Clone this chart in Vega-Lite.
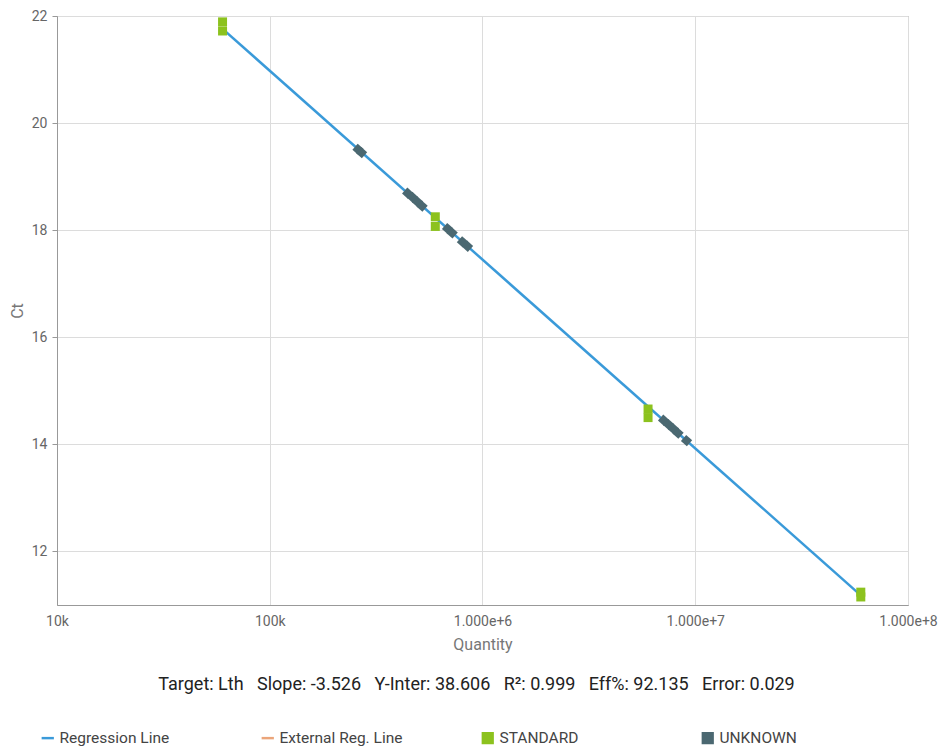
{
  "$schema": "https://vega.github.io/schema/vega-lite/v6.json",
  "width": 851,
  "height": 589,
  "autosize": {"type": "none"},
  "padding": {"left": 57, "top": 16, "right": 37, "bottom": 146},
  "background": "white",
  "config": {
    "font": "Roboto",
    "view": {"stroke": "#999", "strokeWidth": 1},
    "axis": {
      "labelFont": "Roboto", "labelFontSize": 14, "labelColor": "#666",
      "titleFont": "Roboto", "titleFontSize": 16, "titleColor": "#777", "titleFontWeight": "normal",
      "gridColor": "#dcdcdc", "domainColor": "#999"
    }
  },
  "title": {
    "text": "Target: Lth\u00a0\u00a0\u00a0Slope: -3.526\u00a0\u00a0\u00a0Y-Inter: 38.606\u00a0\u00a0\u00a0R²: 0.999\u00a0\u00a0\u00a0Eff%: 92.135\u00a0\u00a0\u00a0Error: 0.029",
    "orient": "bottom", "anchor": "middle", "frame": "group",
    "font": "Roboto", "fontSize": 18, "fontWeight": "normal", "color": "#222",
    "offset": -71, "dx": -6
  },
  "data": {
    "values": [
      {"series": "Regression Line", "quantity": 60000, "ct": 21.76},
      {"series": "Regression Line", "quantity": 60000000, "ct": 11.18},
      {"series": "STANDARD", "quantity": 60000, "ct": 21.89},
      {"series": "STANDARD", "quantity": 60000, "ct": 21.72},
      {"series": "STANDARD", "quantity": 600000, "ct": 18.25},
      {"series": "STANDARD", "quantity": 600000, "ct": 18.07},
      {"series": "STANDARD", "quantity": 6000000, "ct": 14.66},
      {"series": "STANDARD", "quantity": 6000000, "ct": 14.5},
      {"series": "STANDARD", "quantity": 60000000, "ct": 11.24},
      {"series": "STANDARD", "quantity": 60000000, "ct": 11.15},
      {"series": "UNKNOWN", "quantity": 260000, "ct": 19.51},
      {"series": "UNKNOWN", "quantity": 270000, "ct": 19.45},
      {"series": "UNKNOWN", "quantity": 445000, "ct": 18.69},
      {"series": "UNKNOWN", "quantity": 470000, "ct": 18.61},
      {"series": "UNKNOWN", "quantity": 495000, "ct": 18.53},
      {"series": "UNKNOWN", "quantity": 520000, "ct": 18.45},
      {"series": "UNKNOWN", "quantity": 685000, "ct": 18.03},
      {"series": "UNKNOWN", "quantity": 720000, "ct": 17.95},
      {"series": "UNKNOWN", "quantity": 805000, "ct": 17.78},
      {"series": "UNKNOWN", "quantity": 850000, "ct": 17.7},
      {"series": "UNKNOWN", "quantity": 7100000, "ct": 14.45},
      {"series": "UNKNOWN", "quantity": 7500000, "ct": 14.37},
      {"series": "UNKNOWN", "quantity": 7900000, "ct": 14.29},
      {"series": "UNKNOWN", "quantity": 8300000, "ct": 14.21},
      {"series": "UNKNOWN", "quantity": 9100000, "ct": 14.07}
    ]
  },
  "encoding": {
    "x": {
      "field": "quantity", "type": "quantitative", "title": "Quantity",
      "scale": {"type": "log", "domain": [10000, 100000000], "nice": false},
      "axis": {
        "values": [10000, 100000, 1000000, 10000000, 100000000],
        "labelExpr": "datum.value < 1000000 ? format(datum.value, '~s') : format(datum.value, '.3e')",
        "ticks": false, "labelPadding": 9, "titlePadding": 8, "labelFlush": false, "labelOverlap": false,
        "domain": true
      }
    },
    "y": {
      "field": "ct", "type": "quantitative", "title": "Ct",
      "scale": {"domain": [11, 22], "nice": false, "zero": false},
      "axis": {
        "values": [12, 14, 16, 18, 20, 22],
        "ticks": true, "tickSize": 5, "tickColor": "#999", "labelPadding": 5, "titlePadding": 6, "labelFlush": false
      }
    },
    "color": {
      "field": "series", "type": "nominal",
      "scale": {
        "domain": ["Regression Line", "External Reg. Line", "STANDARD", "UNKNOWN"],
        "range": ["#3A9AD9", "#EBA57A", "#8CC21E", "#4B6871"]
      },
      "legend": {
        "title": null, "orient": "none", "legendX": -17, "legendY": 714,
        "direction": "horizontal", "columns": 4,
        "gridAlign": "all", "columnPadding": 77,
        "labelFont": "Roboto", "labelFontSize": 15.5, "labelColor": "#444", "labelLimit": 200,
        "symbolSize": 150, "symbolStrokeWidth": 0, "symbolOpacity": 1
      }
    }
  },
  "layer": [
    {
      "transform": [{"filter": "datum.series === 'Regression Line'"}],
      "mark": {"type": "line", "strokeWidth": 2.5}
    },
    {
      "transform": [{"filter": "datum.series === 'STANDARD'"}],
      "mark": {"type": "point", "filled": true, "opacity": 1, "size": 81},
      "encoding": {
        "shape": {
          "field": "series", "type": "nominal",
          "scale": {
            "domain": ["Regression Line", "External Reg. Line", "STANDARD", "UNKNOWN"],
            "range": ["M-1,-0.2L1,-0.2L1,0.2L-1,0.2Z", "M-1,-0.2L1,-0.2L1,0.2L-1,0.2Z", "square", "square"]
          }
        }
      }
    },
    {
      "transform": [{"filter": "datum.series === 'UNKNOWN'"}],
      "mark": {"type": "point", "filled": true, "opacity": 1, "size": 64, "angle": 41.5},
      "encoding": {
        "shape": {
          "field": "series", "type": "nominal",
          "scale": {
            "domain": ["Regression Line", "External Reg. Line", "STANDARD", "UNKNOWN"],
            "range": ["M-1,-0.2L1,-0.2L1,0.2L-1,0.2Z", "M-1,-0.2L1,-0.2L1,0.2L-1,0.2Z", "square", "square"]
          }
        }
      }
    }
  ]
}
